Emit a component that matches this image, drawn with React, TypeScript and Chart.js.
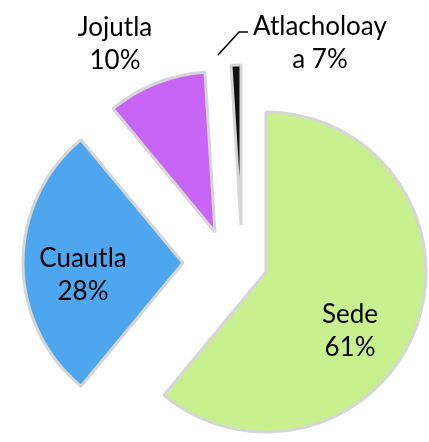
import React, { useEffect, useRef } from "react";
import { Chart, registerables } from "chart.js";

Chart.register(...registerables);

const categories = ["Sede", "Cuautla", "Jojutla", "Atlacholoaya"];
const shares = [61, 28, 10, 1];
const labelLines = [
  ["Sede", "61%"],
  ["Cuautla", "28%"],
  ["Jojutla", "10%"],
  ["Atlacholoay", "a 7%"],
];
const colors = ["#c9f08f", "#4ea7ee", "#c965f5", "#111111"];

// styling: per-slice pull-out shift and label anchor relative to slice tip
const SHIFTS: [number, number][] = [
  [26, 9],
  [-57, 0],
  [-25, -31],
  [1, -38],
];
const LABEL_POS: [number, number][] = [
  [84, 51],
  [-100, 4],
  [-100, -196],
  [79, -190],
];
const LINE_GAP = 33;

const explodePlugin = {
  id: "explodeSlices",
  beforeDatasetDraw(chart: any, args: any) {
    const ctx = chart.ctx;
    const meta = chart.getDatasetMeta(args.index);
    meta.data.forEach((arc: any, i: number) => {
      ctx.save();
      ctx.translate(SHIFTS[i][0], SHIFTS[i][1]);
      arc.draw(ctx);
      ctx.restore();
    });
    return false;
  },
  afterDraw(chart: any) {
    const ctx = chart.ctx;
    const meta = chart.getDatasetMeta(0);
    ctx.save();
    ctx.font = "26px Lato";
    ctx.fillStyle = "#000";
    ctx.textAlign = "center";
    ctx.textBaseline = "alphabetic";
    meta.data.forEach((arc: any, i: number) => {
      const tipX = arc.x + SHIFTS[i][0];
      const tipY = arc.y + SHIFTS[i][1];
      const lx = tipX + LABEL_POS[i][0];
      const ly = tipY + LABEL_POS[i][1];
      labelLines[i].forEach((t, k) => ctx.fillText(t, lx, ly + k * LINE_GAP));
    });
    // leader line for the thin slice
    const a = meta.data[3];
    const topX = a.x + SHIFTS[3][0] - 23;
    const topY = a.y + SHIFTS[3][1] - a.outerRadius - 10;
    ctx.strokeStyle = "#000";
    ctx.lineWidth = 1.5;
    ctx.beginPath();
    ctx.moveTo(topX, topY);
    ctx.lineTo(topX + 21, topY - 23);
    ctx.lineTo(topX + 30, topY - 23);
    ctx.stroke();
    ctx.restore();
  },
};

export default function App() {
  const ref = useRef<HTMLCanvasElement>(null);
  useEffect(() => {
    if (!ref.current) return;
    const chart = new Chart(ref.current, {
      type: "pie",
      data: {
        labels: categories,
        datasets: [
          {
            data: shares,
            backgroundColor: colors,
            borderColor: "#d6d6d6",
            borderWidth: 3,
            clip: false as any,
          },
        ],
      },
      options: {
        animation: false,
        responsive: false,
        radius: 160,
        layout: { padding: { left: 51, top: 84, right: 0, bottom: 0 } },
        plugins: {
          legend: { display: false },
          tooltip: { enabled: false },
        },
      } as any,
      plugins: [explodePlugin],
    });
    return () => chart.destroy();
  }, []);
  return (
    <div style={{ position: "fixed", left: 0, top: 0, width: 429, height: 442, background: "#fff" }}>
      <canvas ref={ref} width={429} height={442} />
    </div>
  );
}
